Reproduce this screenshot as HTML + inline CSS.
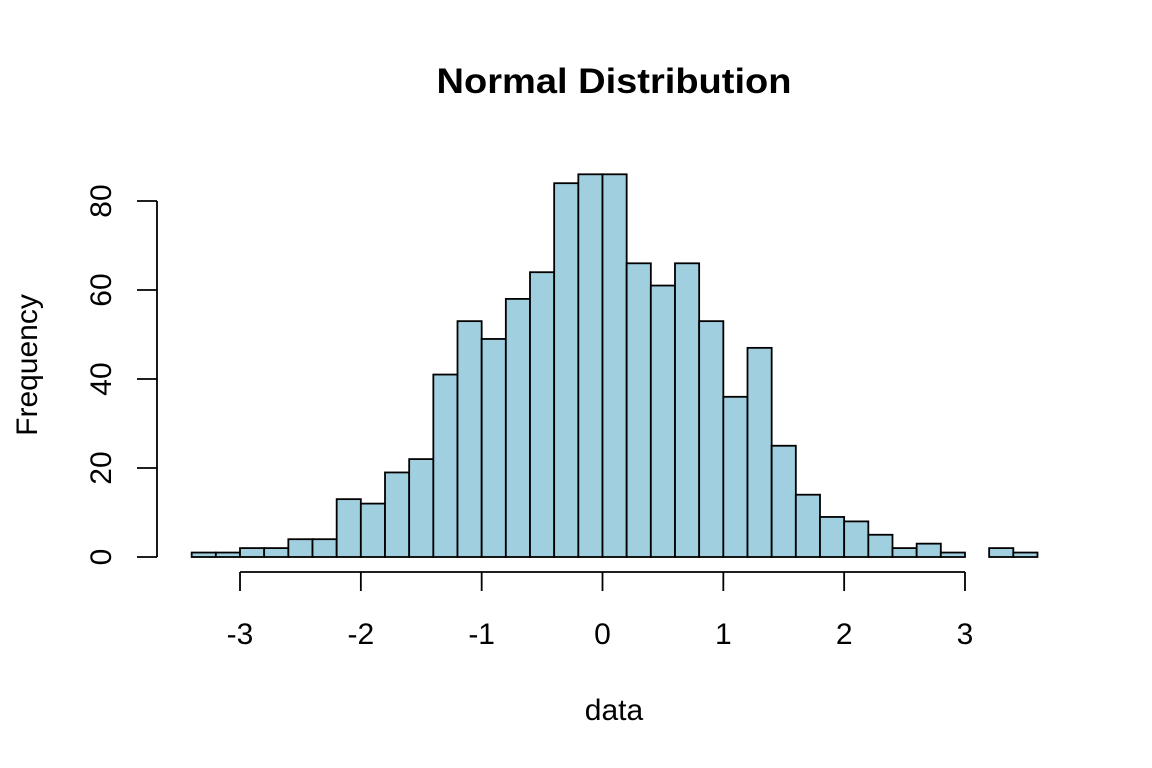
<!DOCTYPE html>
<html><head><meta charset="utf-8"><style>
html,body{margin:0;padding:0;background:#fff;}
svg{display:block;font-family:"Liberation Sans",Arial,sans-serif;}
</style></head><body>
<svg id="s" width="1152" height="768" xmlns="http://www.w3.org/2000/svg">
<rect width="1152" height="768" fill="#fff"/>
<text x="614" y="93" font-size="35" font-weight="bold" text-anchor="middle" textLength="355" lengthAdjust="spacingAndGlyphs">Normal Distribution</text>
<text x="614" y="720" font-size="30" text-anchor="middle">data</text>
<text transform="translate(37,365) rotate(-90)" font-size="30" text-anchor="middle">Frequency</text>
<g id="bars" fill="#a0cfe0" stroke="#000" stroke-width="1.8"></g>
<g stroke="#000" stroke-width="1.8" fill="none">
<line x1="157" y1="201" x2="157" y2="557"/>
<line x1="240" y1="572" x2="965" y2="572"/>
</g>
<g id="ax" font-size="30"></g>
</svg>
<script>
var counts=[1,1,2,2,4,4,13,12,19,22,41,53,49,58,64,84,86,86,66,61,66,53,36,47,25,14,9,8,5,2,3,1,0,2,1];
var ns="http://www.w3.org/2000/svg";
function X(v){return 602.5+v*120.83;}
function Y(c){return 557-c*4.45;}
var g=document.getElementById("bars");
for(var i=0;i<counts.length;i++){
 if(counts[i]==0)continue;
 var x0=X(-3.4+i*0.2),x1=X(-3.4+(i+1)*0.2);
 var r=document.createElementNS(ns,"rect");
 r.setAttribute("x",x0);r.setAttribute("width",x1-x0);
 r.setAttribute("y",Y(counts[i]));r.setAttribute("height",557-Y(counts[i]));
 g.appendChild(r);
}
var ax=document.getElementById("ax");
function el(t,a,txt){var e=document.createElementNS(ns,t);for(var k in a)e.setAttribute(k,a[k]);if(txt!=null)e.textContent=txt;ax.appendChild(e);}
for(var v=-3;v<=3;v++){
 el("line",{x1:X(v),y1:572,x2:X(v),y2:591,stroke:"#000","stroke-width":1.8});
 el("text",{x:X(v),y:644,"text-anchor":"middle"},String(v));
}
for(var c=0;c<=80;c+=20){
 el("line",{x1:137,y1:Y(c),x2:157,y2:Y(c),stroke:"#000","stroke-width":1.8});
 el("text",{transform:"translate(111,"+Y(c)+") rotate(-90)","text-anchor":"middle"},String(c));
}
</script>
</body></html>
